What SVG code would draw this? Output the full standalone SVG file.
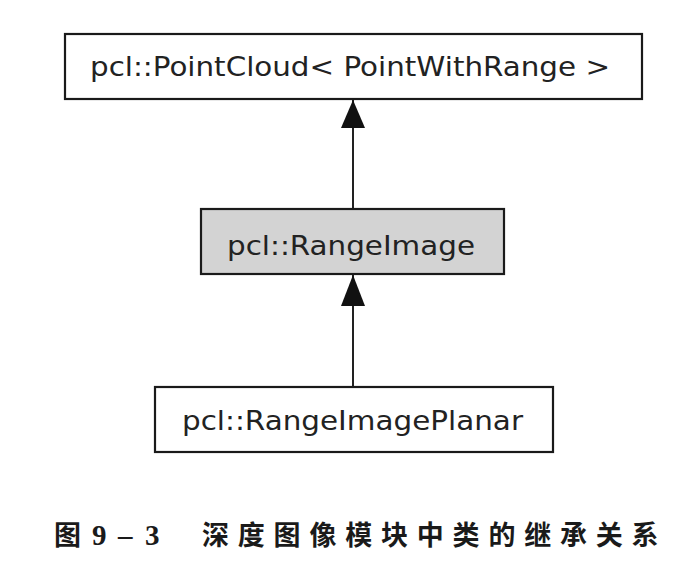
<svg xmlns="http://www.w3.org/2000/svg" width="689" height="564" viewBox="0 0 689 564">
<style>
.box{stroke:#1a1a1a;stroke-width:2.2}
.lbl{font-family:"DejaVu Sans",sans-serif;font-size:27px;fill:#222}
.edge{stroke:#222;stroke-width:2;fill:none}
.cap{font-family:"Noto Sans CJK SC",sans-serif;font-weight:bold;font-size:27px;fill:#1a1a1a}
.num{font-family:"Liberation Serif",serif;font-weight:bold;font-size:29px;fill:#1a1a1a}
</style>
<rect width="689" height="564" fill="#fff"/>
<g id="connectors">
<line class="edge" x1="353" y1="209" x2="353" y2="100"/>
<path d="M353,100 L365,128 L341,128 Z" fill="#111"/>
<line class="edge" x1="353" y1="387" x2="353" y2="275"/>
<path d="M353,275 L365,306 L341,306 Z" fill="#111"/>
</g>
<g id="node-pointcloud">
<rect class="box" x="65" y="34" width="577" height="65" fill="#fff"/>
<text class="lbl" x="90" y="76" textLength="520" lengthAdjust="spacingAndGlyphs">pcl::PointCloud&lt; PointWithRange &gt;</text>
</g>
<g id="node-rangeimage">
<rect class="box" x="201" y="209" width="303" height="65" fill="#d3d3d3"/>
<text class="lbl" x="227" y="255" textLength="248" lengthAdjust="spacingAndGlyphs">pcl::RangeImage</text>
</g>
<g id="node-rangeimageplanar">
<rect class="box" x="155" y="387" width="398" height="65" fill="#fff"/>
<text class="lbl" x="182" y="430" textLength="341" lengthAdjust="spacingAndGlyphs">pcl::RangeImagePlanar</text>
</g>
<g id="caption">
<text class="cap" x="54" y="545">图</text>
<text class="num" x="92" y="545">9</text>
<text class="num" x="118" y="545">–</text>
<text class="num" x="145" y="545">3</text>
<text class="cap" x="202" y="545" letter-spacing="8.8">深度图像模块中类的继承关系</text>
</g>
</svg>
